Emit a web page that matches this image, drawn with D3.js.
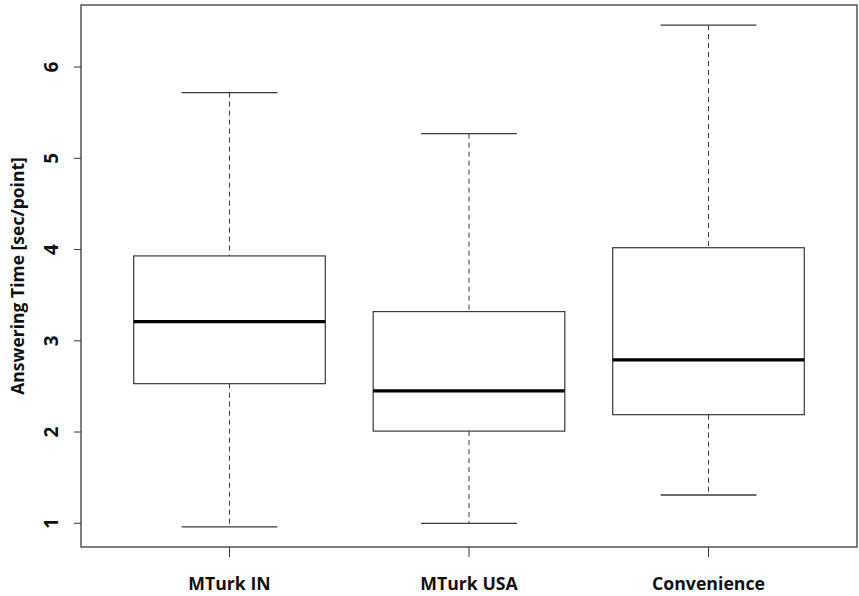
<!DOCTYPE html>
<html>
<head>
<meta charset="utf-8">
<script src="https://cdn.jsdelivr.net/npm/d3@7"></script>
<style>
  body { margin: 0; background: #fff; }
  text { font-family: "Open Sans", "Liberation Sans", sans-serif; font-weight: bold; fill: #111; }
</style>
</head>
<body>
<div id="chart"></div>
<script>
// Group names and five-number summaries
const groups = ['MTurk IN', 'MTurk USA', 'Convenience'];
const whiskerLow = [0.96, 1.00, 1.31];
const q1 = [2.53, 2.01, 2.19];
const median = [3.21, 2.45, 2.79];
const q3 = [3.93, 3.32, 4.02];
const whiskerHigh = [5.72, 5.27, 6.46];
const yTicks = [1, 2, 3, 4, 5, 6];

let w = 859, h = 596,
  plotL = 81, plotR = 857, plotT = 5, plotB = 547;

const svg = d3.select('#chart').append('svg')
  .attr('width', w).attr('height', h);

// R style: domain padded by 4% each side
const x = d3.scaleLinear().domain([0.38, 3.62]).range([plotL, plotR]);
const y = d3.scaleLinear().domain([0.74, 6.68]).range([plotB, plotT]);

const stroke = '#3a3a3a';
const boxHalf = 0.4, capHalf = 0.2;

groups.forEach((g, i) => {
  let cx = x(i + 1);
  let grp = svg.append('g');

  // dashed whiskers
  grp.append('line')
    .attr('x1', cx).attr('x2', cx)
    .attr('y1', y(whiskerHigh[i])).attr('y2', y(q3[i]))
    .attr('stroke', stroke).attr('stroke-dasharray', '5,4');
  grp.append('line')
    .attr('x1', cx).attr('x2', cx)
    .attr('y1', y(q1[i])).attr('y2', y(whiskerLow[i]))
    .attr('stroke', stroke).attr('stroke-dasharray', '5,4');

  // caps
  [whiskerHigh[i], whiskerLow[i]].forEach(v => {
    grp.append('line')
      .attr('x1', x(i + 1 - capHalf)).attr('x2', x(i + 1 + capHalf))
      .attr('y1', y(v)).attr('y2', y(v))
      .attr('stroke', stroke).attr('stroke-width', 1.3);
  });

  // box
  grp.append('rect')
    .attr('x', x(i + 1 - boxHalf))
    .attr('y', y(q3[i]))
    .attr('width', x(i + 1 + boxHalf) - x(i + 1 - boxHalf))
    .attr('height', y(q1[i]) - y(q3[i]))
    .attr('fill', 'white').attr('stroke', stroke).attr('stroke-width', 1.2);

  // median
  grp.append('line')
    .attr('x1', x(i + 1 - boxHalf)).attr('x2', x(i + 1 + boxHalf))
    .attr('y1', y(median[i])).attr('y2', y(median[i]))
    .attr('stroke', '#000').attr('stroke-width', 3.2);
});

// frame
svg.append('rect')
  .attr('x', plotL).attr('y', plotT)
  .attr('width', plotR - plotL).attr('height', plotB - plotT)
  .attr('fill', 'none').attr('stroke', stroke).attr('stroke-width', 1.3);

// y axis ticks + rotated labels
yTicks.forEach(t => {
  svg.append('line')
    .attr('x1', plotL - 7).attr('x2', plotL)
    .attr('y1', y(t)).attr('y2', y(t))
    .attr('stroke', stroke);
  svg.append('text')
    .attr('transform', 'translate(58,' + y(t) + ') rotate(-90)')
    .attr('text-anchor', 'middle')
    .attr('font-size', 19)
    .text(t);
});

// x axis ticks + labels
groups.forEach((g, i) => {
  svg.append('line')
    .attr('x1', x(i + 1)).attr('x2', x(i + 1))
    .attr('y1', plotB).attr('y2', plotB + 10)
    .attr('stroke', stroke);
  svg.append('text')
    .attr('x', x(i + 1)).attr('y', 590)
    .attr('text-anchor', 'middle')
    .attr('font-size', 17.7)
    .text(g);
});

// y axis title
svg.append('text')
  .attr('transform', 'translate(24,' + ((plotT + plotB) / 2) + ') rotate(-90)')
  .attr('text-anchor', 'middle')
  .attr('font-size', 17.5)
  .text('Answering Time [sec/point]');
</script>
</body>
</html>
